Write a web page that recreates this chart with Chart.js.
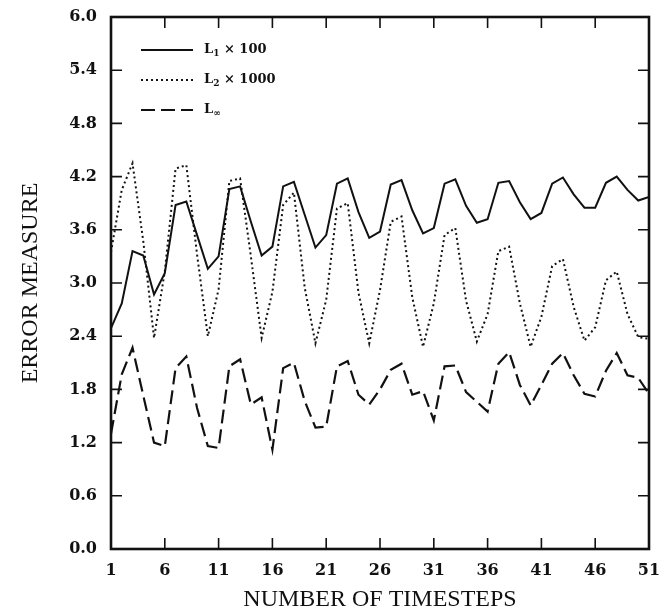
<!DOCTYPE html>
<html>
<head>
<meta charset="utf-8">
<script src="https://cdn.jsdelivr.net/npm/chart.js@4"></script>
<style>
  body { margin: 0; background: #fff; }
  canvas { display: block; }
</style>
</head>
<body>
<canvas id="errorChart" width="664" height="615"></canvas>
<script>
const timesteps = [1, 2, 3, 4, 5, 6, 7, 8, 9, 10, 11, 12, 13, 14, 15, 16, 17, 18, 19, 20,
    21, 22, 23, 24, 25, 26, 27, 28, 29, 30, 31, 32, 33, 34, 35, 36, 37, 38, 39, 40,
    41, 42, 43, 44, 45, 46, 47, 48, 49, 50, 51];

// L1 x 100 (solid)
const l1Values = [2.49, 2.77, 3.36, 3.31, 2.87, 3.11, 3.88, 3.92, 3.54, 3.16,
    3.30, 4.06, 4.09, 3.69, 3.31, 3.41, 4.09, 4.14, 3.77, 3.40,
    3.54, 4.12, 4.18, 3.80, 3.51, 3.58, 4.11, 4.16, 3.82, 3.56,
    3.62, 4.12, 4.17, 3.87, 3.68, 3.72, 4.13, 4.15, 3.91, 3.72,
    3.79, 4.12, 4.19, 4.00, 3.85, 3.85, 4.13, 4.20, 4.05, 3.93, 3.97];

// L2 x 1000 (dotted)
const l2Values = [3.35, 4.05, 4.35, 3.47, 2.38, 3.13, 4.29, 4.33, 3.32, 2.40,
    2.93, 4.15, 4.18, 3.30, 2.38, 2.90, 3.88, 4.02, 2.95, 2.32,
    2.81, 3.84, 3.90, 2.89, 2.32, 2.92, 3.69, 3.75, 2.84, 2.28,
    2.77, 3.54, 3.62, 2.80, 2.34, 2.65, 3.36, 3.41, 2.77, 2.28,
    2.62, 3.19, 3.27, 2.73, 2.35, 2.50, 3.03, 3.13, 2.65, 2.39, 2.37];

// L infinity (dashed)
const lInfValues = [1.30, 1.97, 2.27, 1.73, 1.20, 1.16, 2.04, 2.17, 1.59, 1.16,
    1.14, 2.06, 2.14, 1.63, 1.71, 1.12, 2.04, 2.10, 1.67, 1.37,
    1.38, 2.06, 2.12, 1.74, 1.63, 1.80, 2.02, 2.09, 1.74, 1.78,
    1.45, 2.06, 2.07, 1.77, 1.66, 1.55, 2.09, 2.22, 1.85, 1.62,
    1.85, 2.09, 2.21, 1.96, 1.75, 1.72, 2.01, 2.21, 1.96, 1.93, 1.75];

const xTicks = [1, 6, 11, 16, 21, 26, 31, 36, 41, 46, 51];
const yTicks = [0, 0.6, 1.2, 1.8, 2.4, 3.0, 3.6, 4.2, 4.8, 5.4, 6.0];

const seriesLabels = [
    { name: 'L', sub: '1', suffix: ' \u00d7 100' },
    { name: 'L', sub: '2', suffix: ' \u00d7 1000' },
    { name: 'L', sub: '\u221e', suffix: '' }
];

const ink = '#111';
const tickLen = 11;

function toPoints(values) {
    return timesteps.map((t, i) => ({ x: t, y: values[i] }));
}

// frame with inward ticks on all four sides
const framePlugin = {
    id: 'frame',
    afterDatasetsDraw(chart) {
        const { ctx, chartArea: a, scales: { x, y } } = chart;
        ctx.save();
        ctx.strokeStyle = ink;
        ctx.lineWidth = 1.6;
        ctx.beginPath();
        xTicks.forEach(v => {
            const px = x.getPixelForValue(v);
            ctx.moveTo(px, a.bottom);
            ctx.lineTo(px, a.bottom - tickLen);
            ctx.moveTo(px, a.top);
            ctx.lineTo(px, a.top + tickLen);
        });
        yTicks.forEach(v => {
            const py = y.getPixelForValue(v);
            ctx.moveTo(a.left, py);
            ctx.lineTo(a.left + tickLen, py);
            ctx.moveTo(a.right, py);
            ctx.lineTo(a.right - tickLen, py);
        });
        ctx.stroke();
        ctx.lineWidth = 2.6;
        ctx.strokeRect(a.left, a.top, a.right - a.left, a.bottom - a.top);
        ctx.restore();
    }
};

// legend inside the plot, top left
const legendPlugin = {
    id: 'innerLegend',
    afterDraw(chart) {
        const { ctx, chartArea: a } = chart;
        ctx.save();
        chart.data.datasets.forEach((ds, i) => {
            const rowY = a.top + 33 + i * 30;
            ctx.strokeStyle = ink;
            ctx.lineWidth = ds.borderWidth;
            ctx.setLineDash(ds.borderDash || []);
            ctx.beginPath();
            ctx.moveTo(a.left + 30, rowY);
            ctx.lineTo(a.left + 82, rowY);
            ctx.stroke();

            const lbl = seriesLabels[i];
            let tx = a.left + 93;
            ctx.fillStyle = ink;
            ctx.textBaseline = 'middle';
            ctx.font = 'bold 13px "DejaVu Serif"';
            ctx.fillText(lbl.name, tx, rowY);
            tx += ctx.measureText(lbl.name).width;
            ctx.font = 'bold 9px "DejaVu Serif"';
            ctx.fillText(lbl.sub, tx, rowY + 4);
            tx += ctx.measureText(lbl.sub).width;
            ctx.font = 'bold 13px "DejaVu Serif"';
            ctx.fillText(lbl.suffix, tx, rowY);
        });
        ctx.restore();
    }
};

const ctx = document.getElementById('errorChart').getContext('2d');

new Chart(ctx, {
    type: 'line',
    data: {
        datasets: [
            {
                label: 'L1 x 100',
                data: toPoints(l1Values),
                borderColor: ink,
                borderWidth: 2,
                pointRadius: 0,
                tension: 0
            },
            {
                label: 'L2 x 1000',
                data: toPoints(l2Values),
                borderColor: ink,
                borderWidth: 2,
                borderDash: [2, 3],
                pointRadius: 0,
                tension: 0
            },
            {
                label: 'Linf',
                data: toPoints(lInfValues),
                borderColor: ink,
                borderWidth: 2.2,
                borderDash: [14, 6],
                pointRadius: 0,
                tension: 0
            }
        ]
    },
    options: {
        responsive: false,
        animation: false,
        layout: { padding: { left: 0, right: 15, top: 17, bottom: 0 } },
        plugins: {
            legend: { display: false },
            tooltip: { enabled: false }
        },
        scales: {
            x: {
                type: 'linear',
                min: 1,
                max: 51,
                afterBuildTicks: scale => { scale.ticks = xTicks.map(v => ({ value: v })); },
                afterFit: scale => {
                    scale.height = 66;
                    scale.paddingLeft = 0;
                    scale.paddingRight = 0;
                },
                grid: { display: false, drawTicks: false },
                border: { display: false },
                ticks: {
                    padding: 12,
                    color: ink,
                    font: { family: '"DejaVu Serif"', size: 16, weight: 'bold' }
                },
                title: {
                    display: true,
                    text: 'NUMBER OF TIMESTEPS',
                    color: ink,
                    padding: { top: 0, bottom: 1 },
                    font: { family: '"Liberation Serif"', size: 24 }
                }
            },
            y: {
                min: 0,
                max: 6,
                afterBuildTicks: scale => { scale.ticks = yTicks.map(v => ({ value: v })); },
                afterFit: scale => {
                    scale.width = 111;
                    scale.paddingTop = 0;
                    scale.paddingBottom = 0;
                },
                grid: { display: false, drawTicks: false },
                border: { display: false },
                ticks: {
                    padding: 14,
                    color: ink,
                    font: { family: '"DejaVu Serif"', size: 16, weight: 'bold' },
                    callback: v => v.toFixed(1)
                },
                title: {
                    display: true,
                    text: 'ERROR MEASURE',
                    color: ink,
                    padding: { top: 16, bottom: 0 },
                    font: { family: '"Liberation Serif"', size: 24 }
                }
            }
        }
    },
    plugins: [framePlugin, legendPlugin]
});
</script>
</body>
</html>
